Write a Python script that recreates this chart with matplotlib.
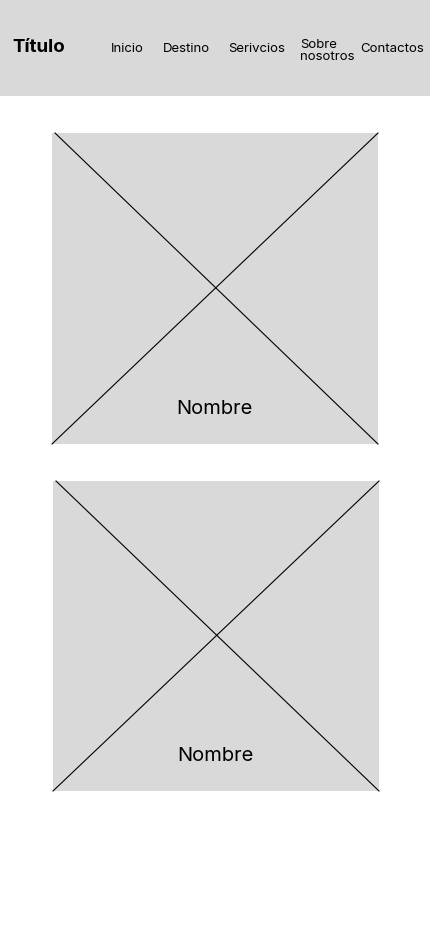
import matplotlib
matplotlib.use("Agg")
import matplotlib.pyplot as plt
from matplotlib.patches import Rectangle

plt.rcParams['font.family'] = ['Inter', 'DejaVu Sans']

title = "Título"
nav_labels = ["Inicio", "Destino", "Serivcios", "Sobre\nnosotros", "Contactos"]
nav_x = [111, 163, 228, 300, 360]
card_names = ["Nombre", "Nombre"]
card_boxes = [(52, 133, 326, 311), (53, 481, 326, 310)]  # x, y, w, h in px

gray = "#d9d9d9"

fig = plt.figure(figsize=(4.3, 9.36), dpi=100)
ax = fig.add_axes([0, 0, 1, 1])
ax.set_xlim(0, 430)
ax.set_ylim(936, 0)
ax.axis("off")

# header bar
ax.add_patch(Rectangle((0, 0), 430, 96, color=gray, lw=0))
ax.text(12, 47, title, fontsize=13.5, fontweight="bold", va="center", ha="left")
for lab, x in zip(nav_labels, nav_x):
    ax.text(x, 49 if "\n" not in lab else 51, lab, fontsize=9.5, va="center", ha="left",
            linespacing=1.05)

# image placeholder cards
for name, (x, y, w, h) in zip(card_names, card_boxes):
    ax.add_patch(Rectangle((x, y), w, h, color=gray, lw=0))
    ax.plot([x + 3, x + w], [y, y + h], color="black", lw=0.8)
    ax.plot([x + w, x], [y, y + h], color="black", lw=0.8)
    ax.text(x + w / 2 - 1, y + h - 35, name, fontsize=14.5, ha="center", va="center")

fig.savefig("out.png", dpi=100)
